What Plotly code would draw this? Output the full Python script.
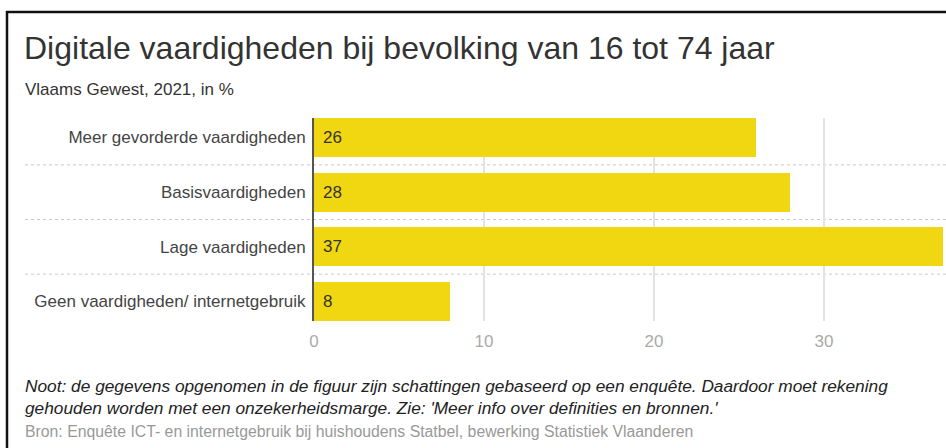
import plotly.graph_objects as go

categories = ["Meer gevorderde vaardigheden", "Basisvaardigheden", "Lage vaardigheden",
              "Geen vaardigheden/ internetgebruik"]
values = [26, 28, 37, 8]
x_ticks = [0, 10, 20, 30]

title = "Digitale vaardigheden bij bevolking van 16 tot 74 jaar"
subtitle = "Vlaams Gewest, 2021, in %"
note1 = "Noot: de gegevens opgenomen in de figuur zijn schattingen gebaseerd op een enquête. Daardoor moet rekening"
note2 = "gehouden worden met een onzekerheidsmarge. Zie: 'Meer info over definities en bronnen.'"
source = "Bron: Enquête ICT- en internetgebruik bij huishoudens Statbel, bewerking Statistiek Vlaanderen"

W, H = 946, 448
L, R, T, B = 314, 946, 118, 321
FONT = "Liberation Sans, Arial, sans-serif"
BAR = "#F0D711"
w = 0.715


def px(x):
    return (x - L) / (R - L)


def py(y):
    return (B - y) / (B - T)


fig = go.Figure()
fig.add_trace(go.Bar(
    x=values, y=categories, orientation="h", width=w,
    marker=dict(color=BAR, line=dict(width=0)),
    hoverinfo="skip",
))

shapes = []
for k in range(len(categories) - 1):
    shapes.append(dict(type="line", xref="paper", yref="y", x0=px(25), x1=px(946),
                       y0=k + 0.5, y1=k + 0.5,
                       line=dict(color="#c8c8c8", width=1, dash="dot"), layer="below"))
# frame lines
shapes.append(dict(type="line", xref="paper", yref="paper", x0=px(6), x1=px(950), y0=py(12), y1=py(12),
                   line=dict(color="#111111", width=2.5)))
shapes.append(dict(type="line", xref="paper", yref="paper", x0=px(7), x1=px(7), y0=py(11), y1=py(452),
                   line=dict(color="#111111", width=2.5)))

annotations = [
    dict(text=title, x=px(22), y=py(48), xref="paper", yref="paper", xanchor="left", yanchor="middle",
         showarrow=False, font=dict(family=FONT, size=32, color="#333333")),
    dict(text=subtitle, x=px(23), y=py(90), xref="paper", yref="paper", xanchor="left", yanchor="middle",
         showarrow=False, font=dict(family=FONT, size=17, color="#333333")),
    dict(text="<i>" + note1 + "</i>", x=px(23), y=py(386), xref="paper", yref="paper", xanchor="left",
         yanchor="middle", showarrow=False, font=dict(family=FONT, size=17.3, color="#222222")),
    dict(text="<i>" + note2 + "</i>", x=px(23), y=py(408), xref="paper", yref="paper", xanchor="left",
         yanchor="middle", showarrow=False, font=dict(family=FONT, size=17.3, color="#222222")),
    dict(text=source, x=px(23), y=py(431), xref="paper", yref="paper", xanchor="left", yanchor="middle",
         showarrow=False, font=dict(family=FONT, size=15.8, color="#999999")),
]
for c, v in zip(categories, values):
    annotations.append(dict(text=str(v), x=0, y=c, xref="x", yref="y", xanchor="left", yanchor="middle",
                            xshift=7, showarrow=False, font=dict(family=FONT, size=17, color="#333333")))

fig.update_layout(
    width=W, height=H,
    margin=dict(l=L, r=W - R, t=T, b=H - B, pad=0),
    paper_bgcolor="white", plot_bgcolor="white",
    showlegend=False, bargap=0,
    xaxis=dict(range=[0, (R - L) / 17.0], tickvals=x_ticks, showgrid=True, gridcolor="#e3e3e3", gridwidth=2,
               zeroline=False, showline=False, ticks="outside", ticklen=5, tickcolor="rgba(0,0,0,0)",
               tickfont=dict(family=FONT, size=17, color="#aaaaaa"), fixedrange=True),
    yaxis=dict(categoryorder="array", categoryarray=categories,
               range=[len(categories) - 0.5 - (1 - w) / 2, -0.5 + (1 - w) / 2],
               showgrid=False, zeroline=False, showline=True, linecolor="#555555", linewidth=2,
               ticks="outside", ticklen=3, tickcolor="rgba(0,0,0,0)",
               tickfont=dict(family=FONT, size=17, color="#444444"), fixedrange=True),
    shapes=shapes, annotations=annotations,
)

fig.write_html("out.html", config={"displayModeBar": False},
               post_script="document.body.style.margin='0';document.body.style.overflow='hidden';")
